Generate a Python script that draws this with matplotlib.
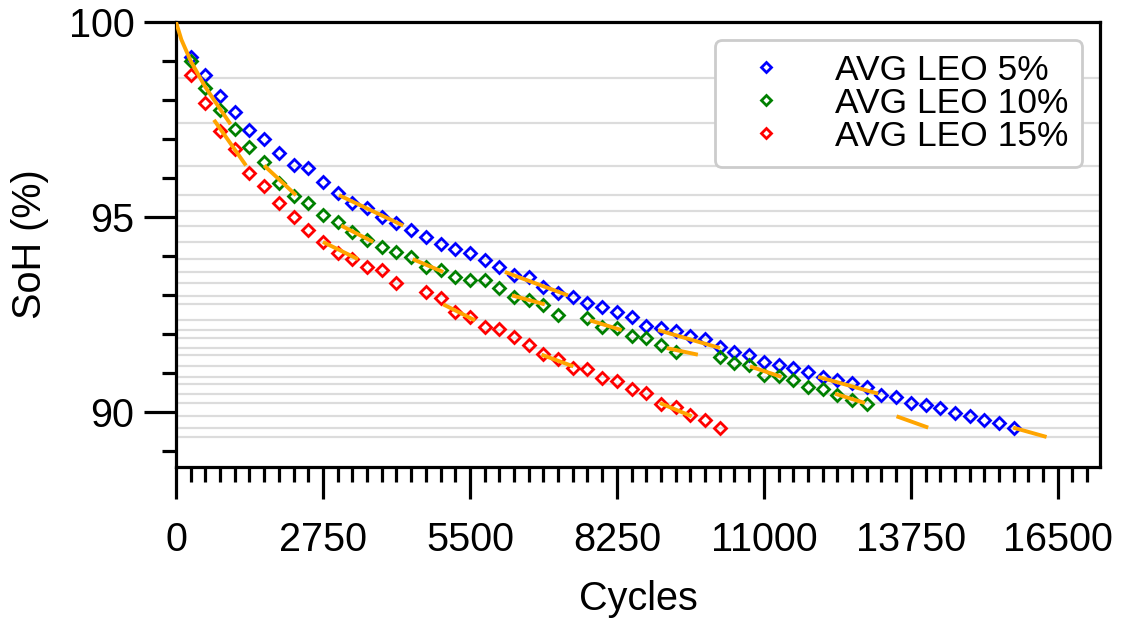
import numpy as np
import matplotlib
matplotlib.use("Agg")
import matplotlib.pyplot as plt
from matplotlib.ticker import MultipleLocator

plt.rcParams['font.family'] = ['Liberation Sans', 'DejaVu Sans']

# ---------------- data ----------------
cycle_step = 275
nan = np.nan

soh_leo5 = [99.09, 98.64, 98.09, 97.70, 97.23, 96.99, 96.63, 96.33, 96.25, 95.91,
            95.61, 95.35, 95.22, 95.01, 94.84, 94.67, 94.50, 94.32, 94.19, 94.07,
            93.90, 93.73, 93.51, 93.45, 93.21, 93.06, 92.96, 92.79, 92.70, 92.57,
            92.43, 92.21, 92.15, 92.08, 91.95, 91.86, 91.67, 91.53, 91.46, 91.29,
            91.21, 91.12, 91.03, 90.91, 90.82, 90.74, 90.63, 90.44, 90.38, 90.24,
            90.18, 90.09, 89.98, 89.90, 89.79, 89.71, 89.58]

soh_leo10 = [99.01, 98.30, 97.74, 97.25, 96.80, 96.42, 95.86, 95.54, 95.37, 95.05,
             94.88, 94.62, 94.41, 94.24, 94.11, 93.98, 93.73, 93.63, 93.45, 93.38,
             93.38, 93.17, 92.94, 92.87, 92.74, 92.49, nan, 92.40, 92.19, 92.15,
             91.95, 91.89, 91.72, 91.55, nan, nan, 91.42, 91.25, 91.21, 90.95,
             90.92, 90.82, 90.65, 90.58, 90.44, 90.31, 90.21]

soh_leo15 = [98.64, 97.93, 97.21, 96.74, 96.14, 95.79, 95.37, 94.99, 94.67, 94.37,
             94.08, 93.92, 93.73, 93.64, 93.32, nan, 93.08, 92.93, 92.57, 92.44,
             92.19, 92.12, 91.92, 91.72, 91.49, 91.35, 91.12, 91.09, 90.86, 90.80,
             90.58, 90.48, 90.21, 90.14, 89.92, 89.79, 89.60]

# initial fitted curve
fit_curve_cycles = [0, 100, 275, 550, 825, 1000]
fit_curve_soh = [100.0, 99.55, 99.00, 98.33, 97.77, 97.42]

# fitted line segments: (start cycles, end cycles, start SoH, end SoH)
fit_seg_x0 = [710, 1650, 3050, 3090, 2750, 4430, 6155, 6285, 5000, 7745,
              9020, 9180, 6840, 10740, 12017, 12330, 9055, 13483, 15665]
fit_seg_x1 = [1310, 2245, 4250, 3690, 3405, 5000, 7335, 6900, 5595, 8340,
              10180, 9765, 7435, 11330, 13140, 12890, 9650, 14075, 16290]
fit_seg_y0 = [97.49, 96.32, 95.56, 94.78, 94.36, 93.92, 93.59, 92.99, 92.76, 92.35,
              92.10, 91.64, 91.47, 91.17, 90.90, 90.47, 90.23, 89.89, 89.60]
fit_seg_y1 = [96.32, 95.56, 94.78, 94.36, 93.92, 93.59, 92.99, 92.76, 92.35, 92.10,
              91.64, 91.47, 91.17, 90.90, 90.47, 90.23, 89.89, 89.60, 89.36]

# horizontal grid levels
grid_levels = [98.555, 97.421, 96.318, 95.561, 95.158, 94.778, 94.362, 93.918,
               93.593, 93.310, 92.987, 92.764, 92.353, 92.097, 91.909, 91.642,
               91.473, 91.173, 90.898, 90.711, 90.472, 90.231, 89.890, 89.600,
               89.359]

series_labels = ['AVG LEO 5%', 'AVG LEO 10%', 'AVG LEO 15%']
series_colors = ['#0000ff', '#008000', '#ff0000']

x_major = [0, 2750, 5500, 8250, 11000, 13750, 16500]
y_major = [90, 95, 100]

# ---------------- plot ----------------
W, H = 1122, 619
fig = plt.figure(figsize=(W / 100, H / 100), dpi=100)
ax = fig.add_axes([176 / W, 1 - 467 / H, (1100 - 176) / W, (467 - 22) / H])

xmax = 17290
for lv in grid_levels:
    ax.axhline(lv, color='#dcdcdc', lw=1.6, zorder=0)

ax.plot(fit_curve_cycles, fit_curve_soh, color='#ffa500', lw=2.8, zorder=3)
for x0, x1, y0, y1 in zip(fit_seg_x0, fit_seg_x1, fit_seg_y0, fit_seg_y1):
    ax.plot([x0, x1], [y0, y1], color='#ffa500', lw=2.8, zorder=3,
            solid_capstyle='butt')

for vals, lab, col in zip([soh_leo5, soh_leo10, soh_leo15], series_labels, series_colors):
    cyc = cycle_step * np.arange(1, len(vals) + 1)
    ax.plot(cyc, vals, linestyle='none', marker='D', ms=6.2, mew=2.0,
            mfc='none', mec=col, label=lab, zorder=2)

ax.set_xlim(0, xmax)
ax.set_ylim(88.59, 100)
ax.set_xticks(x_major)
ax.set_xticklabels([str(v) for v in x_major])
ax.xaxis.set_minor_locator(MultipleLocator(275))
ax.set_yticks(y_major)
ax.yaxis.set_minor_locator(MultipleLocator(1))

for sp in ax.spines.values():
    sp.set_linewidth(2.3)
ax.tick_params(axis='both', which='major', width=2.3, labelsize=28.5)
ax.tick_params(axis='x', which='major', length=23, pad=16)
ax.tick_params(axis='y', which='major', length=23, pad=7)
ax.tick_params(axis='x', which='minor', length=11, width=2.3)
ax.tick_params(axis='y', which='minor', length=10, width=2.3)

ax.set_xlabel('Cycles', fontsize=28.5, labelpad=15)
ax.set_ylabel('SoH (%)', fontsize=28.5, labelpad=14)

leg = ax.legend(loc='upper right', fontsize=25.5, frameon=True, fancybox=True,
                framealpha=1, edgecolor='#cccccc', handlelength=2.08,
                handletextpad=0.9, labelspacing=0.0, borderpad=0.4,
                borderaxespad=0.5, markerscale=0.9)
leg.get_frame().set_linewidth(2.0)

fig.savefig('out.png', dpi=100)
